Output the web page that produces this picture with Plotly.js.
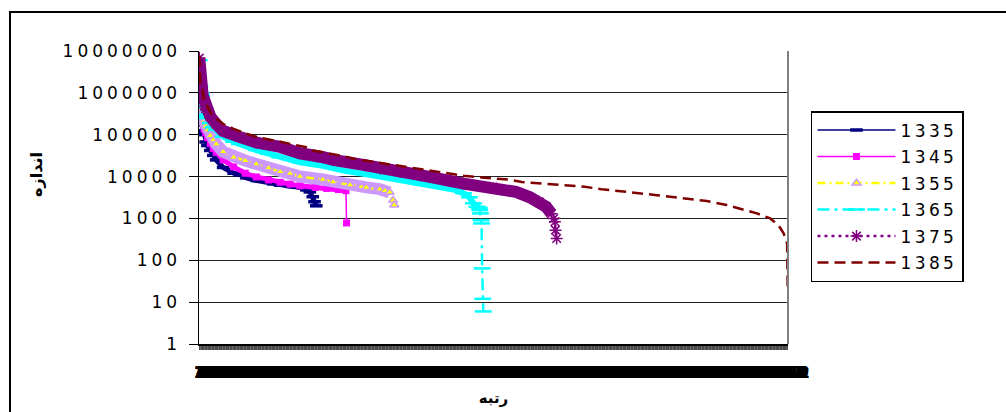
<!DOCTYPE html>
<html><head><meta charset="utf-8">
<script src="https://cdn.plot.ly/plotly-3.0.1.min.js"></script>
<style>
html,body{margin:0;padding:0;background:#fff;}
#wrap{position:relative;width:1006px;height:412px;overflow:hidden;}
#chart{width:1006px;height:412px;}
#frame{position:absolute;left:9px;top:11px;width:1100px;height:500px;border-left:2px solid #000;border-top:2px solid #000;pointer-events:none;}
.ytick text{letter-spacing:4px;}
text.legendtext{letter-spacing:3.4px;}
</style></head><body>
<div id="wrap"><div id="chart"></div><div id="frame"></div></div>
<script>
// ---- data ----
const years = ['1335','1345','1355','1365','1375','1385'];

const rank1335 = [1,2,3,4,5,6,7,8,9,10,12,15,20,25,30,42,60,71,82,100,128,140,160,174,179,185,191,196,199,202];
const size1335 = [1510000,290000,255000,242000,226000,170000,125000,120000,109000,100000,67000,55000,42000,32000,25000,16500,12000,11000,9300,8000,6700,6200,5800,5600,5300,4800,4300,3300,2500,2000];

const rank1345 = [1,2,3,4,5,6,7,8,9,10,12,15,20,25,30,42,60,80,99,120,140,157,174,200,220,240,253,254];
const size1345 = [2720000,424000,410000,403000,273000,270000,206000,187000,144000,134000,111000,85000,62000,47000,38000,25000,17000,12000,9800,8300,7300,6600,6000,5500,5200,4900,4600,780];

const rank1355 = [1,2,3,4,5,6,7,8,9,10,12,15,20,25,30,42,60,80,99,120,140,157,174,213,231,260,288,311,320,328,334,336];
const size1355 = [4530000,668000,662000,599000,425000,296000,290000,230000,215000,180000,160000,130000,95000,75000,60000,39000,29000,24000,20000,16000,13000,11800,10000,8500,7400,6300,5500,5000,4600,4200,2700,2100];

const rank1365 = [1,2,3,4,5,6,7,8,9,10,12,15,20,25,30,42,60,70,99,120,139,156,174,213,254,311,350,391,414,440,455,465,472,478,482,483,484,485,486,487,488,489];
const size1365 = [6040000,1460000,987000,971000,848000,580000,561000,543000,442000,300000,282000,250000,190000,150000,130000,89000,68000,60000,43000,35000,29000,26000,22000,18000,13500,10000,8200,6600,5800,4800,4000,3200,2300,1900,1800,1580,1320,910,760,64,12,6];

const rank1375 = [1,2,3,4,5,6,7,8,9,10,12,15,20,30,42,70,99,140,157,174,214,231,288,312,346,397,455,512,545,569,585,597,606,610,612,613,615];
const size1375 = [6760000,1890000,1270000,1190000,1050000,941000,805000,778000,692000,470000,420000,380000,270000,180000,123000,89000,65000,51000,43000,36000,29000,25000,18500,15500,13000,9800,6800,5200,4300,3200,2500,1900,1300,1000,830,525,330];

const rank1385 = [1,2,3,4,5,6,7,8,9,10,12,15,20,30,42,59,80,100,140,185,196,230,248,270,300,345,363,380,397,431,455,490,535,555,586,618,632,663,692,726,758,787,818,847,873,907,930,959,982,996,1005,1011,1012];
const size1385 = [7800000,2430000,1600000,1400000,1390000,1230000,970000,960000,795000,595000,550000,480000,340000,240000,180000,140000,108000,88000,68000,50000,42000,35000,31000,26000,22500,18500,17000,15300,14000,11800,10500,9400,8400,7400,6900,6400,6200,5700,5000,4500,4100,3600,3200,2900,2600,2100,1730,1320,1000,690,440,250,20];

const yTickVals = [1,10,100,1000,10000,100000,1000000,10000000];
const yTickText = ['1','10','100','1000','10000','100000','1000000','10000000'];
const rankCount = 1012;
const xTickVals = Array.from({length: rankCount}, (_, i) => i + 1);
const xTickText = xTickVals.map(String);

const xTitle = 'رتبه';
const yTitle = 'اندازه';

// ---- styles ----
const seriesData = {
  '1335': [rank1335, size1335], '1345': [rank1345, size1345], '1355': [rank1355, size1355],
  '1365': [rank1365, size1365], '1375': [rank1375, size1375], '1385': [rank1385, size1385]
};
const styles = {
  '1335': {line:{color:'#000080', width:1.5}, marker:{symbol:'line-ew', size:9, line:{color:'#000080', width:3.5}}, band:{color:'#000080', width:5, upto:202}},
  '1345': {line:{color:'#FF00FF', width:1.5}, marker:{symbol:'square', size:7, color:'#FF00FF', line:{width:0}}, band:{color:'#FF00FF', width:5, upto:253}},
  '1355': {line:{color:'#FFFF00', width:2.5, dash:'8px,4px,2px,4px'}, marker:{symbol:'triangle-up', size:8, color:'#FFFF00', line:{color:'#CC99FF', width:1.5}}, band:{color:'#CC99FF', width:12, upto:328}},
  '1365': {line:{color:'#00FFFF', width:2.5, dash:'12px,5px,3px,5px'}, marker:{symbol:'line-ew', size:12, line:{color:'#00FFFF', width:2.5}}, band:{color:'#00FFFF', width:6, upto:482}},
  '1375': {line:{color:'#800080', width:2.5, dash:'3px,4px'}, marker:{symbol:'asterisk-open', size:10, line:{color:'#800080', width:1.5}}, band:{color:'#800080', width:12, upto:606}},
  '1385': {line:{color:'#800000', width:2.5, dash:'11px,6px'}, marker:null, band:null}
};

const traces = [];
years.forEach(y => {
  const [rk, sz] = seriesData[y];
  const st = styles[y];
  if (st.band) {
    const bx = [], by = [];
    rk.forEach((r, i) => { if (r <= st.band.upto) { bx.push(r); by.push(sz[i]); } });
    traces.push({x: bx, y: by, type:'scatter', mode:'lines', line:{color:st.band.color, width:st.band.width},
      showlegend:false, hoverinfo:'skip', legendgroup:y});
  }
  const t = {x: rk, y: sz, type:'scatter', name: y, legendgroup: y,
    mode: st.marker ? 'lines+markers' : 'lines', line: st.line};
  if (st.marker) t.marker = st.marker;
  traces.push(t);
});

const fontFam = 'DejaVu Sans, Liberation Sans, Arial, sans-serif';
const layout = {
  width:1006, height:412,
  margin:{l:199, r:218, t:51, b:68, pad:0},
  paper_bgcolor:'#fff', plot_bgcolor:'#fff',
  showlegend:true,
  xaxis:{type:'linear', range:[0.5, rankCount + 0.5], tickmode:'array', tickvals:xTickVals, ticktext:xTickText,
    tickangle:0, ticks:'outside', ticklen:4, tickwidth:0.8, tickcolor:'#444', ticklabelstandoff:9,
    tickfont:{family:fontFam, size:16, color:'#000', weight:'bold'},
    showgrid:false, zeroline:false, showline:true, linecolor:'#000', linewidth:1.5, automargin:false,
    title:{text:xTitle, font:{family:fontFam, size:15, color:'#000', weight:'bold'}, standoff:12}},
  yaxis:{type:'log', range:[0,7], tickmode:'array', tickvals:yTickVals, ticktext:yTickText,
    ticks:'outside', ticklen:9, tickwidth:1, tickcolor:'#000', ticklabelstandoff:4,
    tickfont:{family:fontFam, size:17, color:'#000'},
    showgrid:true, gridcolor:'#222', gridwidth:1, zeroline:false, showline:true, linecolor:'#000', linewidth:1.5,
    automargin:false},
  legend:{x:1.039, y:0.795, xanchor:'left', yanchor:'top', bgcolor:'#fff', bordercolor:'#000', borderwidth:1.5,
    font:{family:fontFam, size:17, color:'#000'}, itemwidth:78, tracegroupgap:1.4},
  shapes:[{type:'line', xref:'paper', yref:'paper', x0:1, x1:1, y0:0, y1:1, line:{color:'#808080', width:2}}],
  annotations:[{text:yTitle, xref:'paper', yref:'paper', x:-0.275, y:0.577, xanchor:'center', yanchor:'middle',
    showarrow:false, textangle:-90, font:{family:fontFam, size:16, color:'#000', weight:'bold'}}]
};

Plotly.newPlot('chart', traces, layout, {displayModeBar:false, staticPlot:true});
</script>
</body></html>
